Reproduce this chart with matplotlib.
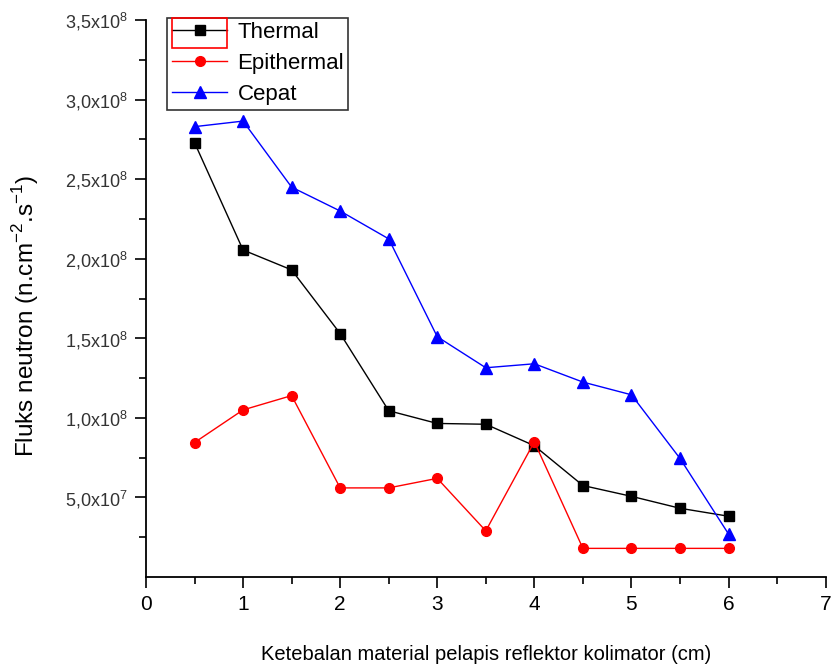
import matplotlib
matplotlib.use("Agg")
import matplotlib.pyplot as plt
from matplotlib.ticker import MultipleLocator, FixedLocator, FixedFormatter
from matplotlib.patches import Rectangle

plt.rcParams['font.family'] = ['Liberation Sans', 'DejaVu Sans']
plt.rcParams['mathtext.fontset'] = 'custom'
plt.rcParams['mathtext.rm'] = 'Liberation Sans'

thickness = [0.5, 1.0, 1.5, 2.0, 2.5, 3.0, 3.5, 4.0, 4.5, 5.0, 5.5, 6.0]
thermal = [2.73e8, 2.055e8, 1.93e8, 1.53e8, 1.045e8, 0.965e8, 0.96e8, 0.825e8, 0.575e8, 0.507e8, 0.432e8, 0.382e8]
epithermal = [0.845e8, 1.05e8, 1.14e8, 0.56e8, 0.56e8, 0.62e8, 0.29e8, 0.85e8, 0.18e8, 0.18e8, 0.18e8, 0.18e8]
cepat = [2.83e8, 2.865e8, 2.45e8, 2.30e8, 2.125e8, 1.51e8, 1.315e8, 1.34e8, 1.225e8, 1.145e8, 0.745e8, 0.27e8]

ytick_vals = [5e7, 1.0e8, 1.5e8, 2.0e8, 2.5e8, 3.0e8, 3.5e8]
ytick_labels = [r'5,0x10$^{7}$', r'1,0x10$^{8}$', r'1,5x10$^{8}$', r'2,0x10$^{8}$',
                r'2,5x10$^{8}$', r'3,0x10$^{8}$', r'3,5x10$^{8}$']

fig = plt.figure(figsize=(8.34, 6.68), dpi=100)
ax = fig.add_axes([0.175, 0.1362, 0.815, 0.8338])

ax.plot(thickness, thermal, color='black', lw=1.0, marker='s', ms=7, label='Thermal')
ax.plot(thickness, epithermal, color='red', lw=1.0, marker='o', ms=7, label='Epithermal')
ax.plot(thickness, cepat, color='blue', lw=1.0, marker='^', ms=8, label='Cepat')

ax.set_xlim(0, 7)
ax.set_ylim(0, 3.5e8)
ax.xaxis.set_major_locator(MultipleLocator(1))
ax.xaxis.set_minor_locator(MultipleLocator(0.5))
ax.yaxis.set_major_locator(FixedLocator(ytick_vals))
ax.yaxis.set_major_formatter(FixedFormatter(ytick_labels))
ax.yaxis.set_minor_locator(FixedLocator([2.5e7, 7.5e7, 1.25e8, 1.75e8, 2.25e8, 2.75e8, 3.25e8]))

for s in ['top', 'right']:
    ax.spines[s].set_visible(False)
for s in ['left', 'bottom']:
    ax.spines[s].set_linewidth(1.3)

ax.tick_params(axis='x', which='major', direction='out', length=8, width=1.2, labelsize=15, pad=5)
ax.tick_params(axis='x', which='minor', direction='out', length=5, width=1.2)
ax.tick_params(axis='y', which='major', direction='out', length=8, width=1.2, labelsize=13, pad=5, labelcolor='#333333')
ax.tick_params(axis='y', which='minor', direction='out', length=5, width=1.2)

ax.set_ylabel(r'Fluks neutron (n.cm$^{-2}$.s$^{-1}$)', fontsize=17.5)
ax.yaxis.set_label_coords(-0.155, 0.469)
ax.set_xlabel('Ketebalan material pelapis reflektor kolimator (cm)', fontsize=14.5, labelpad=22)

leg = ax.legend(loc='upper left', bbox_to_anchor=(0.025, 1.012), fontsize=16, frameon=True,
                fancybox=False, edgecolor='black', handlelength=2.5, borderpad=0.2,
                labelspacing=0.45, handletextpad=0.45, borderaxespad=0.2)
leg.get_frame().set_linewidth(1.2)

# red selection box around the Thermal legend symbol
fig.canvas.draw()
renderer = fig.canvas.get_renderer()
tb = leg.get_texts()[0].get_window_extent(renderer)
fs_px = 16 * 100 / 72
x1 = tb.x0 - 0.45 * fs_px
x0 = x1 - 2.5 * fs_px
cy = (tb.y0 + tb.y1) / 2
rect = Rectangle((x0, cy - 15), x1 - x0, 30, transform=None,
                 fill=False, edgecolor='red', lw=1.2, zorder=10)
fig.patches.append(rect)

fig.savefig('out.png', dpi=100)
